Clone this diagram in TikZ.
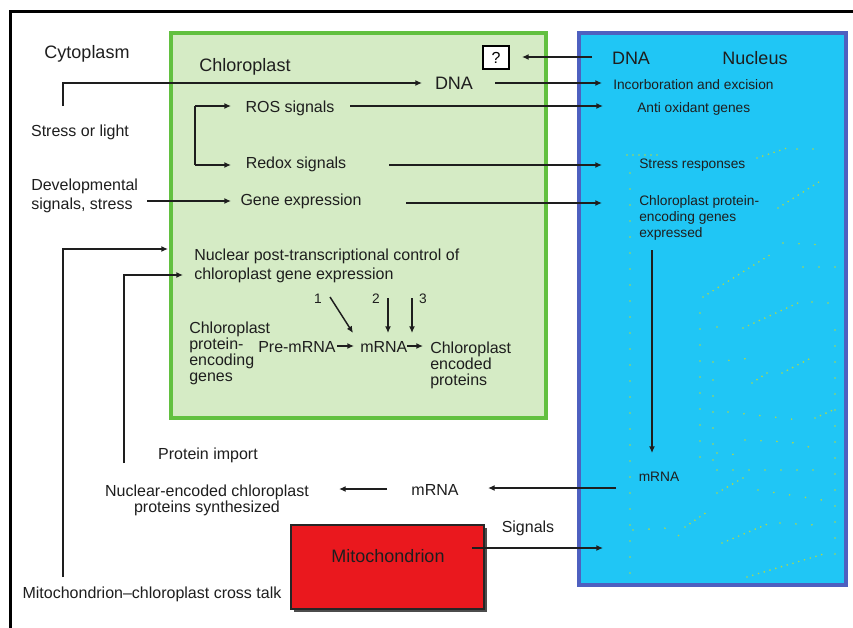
\documentclass[tikz,border=0pt]{standalone}
\usepackage{fontspec}
\setmainfont{Liberation Sans}
\usetikzlibrary{arrows.meta}
\definecolor{chlfill}{RGB}{213,235,197}
\definecolor{chldraw}{RGB}{98,192,64}
\definecolor{nucfill}{RGB}{32,198,245}
\definecolor{nucdraw}{RGB}{78,96,192}
\definecolor{mitofill}{RGB}{234,24,30}
\definecolor{ink}{RGB}{30,30,30}
\definecolor{dotc}{RGB}{170,215,80}
\tikzset{
  arr/.style={draw=ink, line width=1.1pt, -{Latex[length=5pt,width=4.5pt]}},
  ln/.style={draw=ink, line width=1.1pt},
  bigt/.style={font=\fontsize{13.5}{16}\selectfont, text=ink, inner sep=0pt, text height=9.7pt, text depth=0pt},
  medt/.style={font=\fontsize{12}{14}\selectfont, text=ink, inner sep=0pt, text height=8.6pt, text depth=0pt},
  smlt/.style={font=\fontsize{10.3}{12}\selectfont, text=ink, inner sep=0pt, text height=7.4pt, text depth=0pt},
  medw/.style={font=\fontsize{12}{14.25}\selectfont, text=ink, inner sep=0pt, align=left},
  medn/.style={font=\fontsize{12}{12}\selectfont, text=ink, inner sep=0pt, align=left},
  smln/.style={font=\fontsize{10.3}{12}\selectfont, text=ink, inner sep=0pt, align=left},
  deco/.style={draw=dotc, line width=1.4pt, line cap=round, dash pattern=on 0pt off 4.5pt},
  decocol/.style={draw=dotc, line width=1.4pt, line cap=round, dash pattern=on 0pt off 12pt},
}
\begin{document}
\begin{tikzpicture}[x=0.75pt,y=-0.75pt]
\useasboundingbox (0,0) rectangle (853,628);
\fill[white] (0,0) rectangle (853,628);
% frame
\draw[line width=1.6pt, black] (10.5,628) -- (10.5,11.5) -- (853,11.5);

% compartments
\node[draw=chldraw, fill=chlfill, line width=2.4pt, minimum width=281.25pt, minimum height=288.75pt, inner sep=0pt] (chl) at (358.5,225.5) {};
\node[draw=nucdraw, fill=nucfill, line width=2.4pt, minimum width=200.25pt, minimum height=414pt, inner sep=0pt] (nuc) at (712.5,309) {};
\fill[black!70] (294,528) rectangle (487,612);
\node[draw=black!85, fill=mitofill, line width=1.3pt, minimum width=144.75pt, minimum height=63pt, inner sep=0pt] (mito) at (387.5,567) {};
\node[draw=black, fill=white, line width=1.1pt, minimum width=19.5pt, minimum height=17.25pt, inner sep=0pt, font=\fontsize{12}{12}\selectfont] (q) at (496,57.5) {?};

% nucleus decoration dots
\draw[deco] (627,155) -- (660,155);
\draw[deco] (757,158) -- (787,148);
\draw[decocol] (797,149) -- (827,149);
\draw[deco] (778,208) -- (822,180);
\draw[deco] (703,297) -- (773,253);
\draw[decocol] (783,243) -- (825,245);
\draw[decocol] (803,267) -- (835,267);
\draw[deco] (743,328) -- (800,302);
\draw[decocol] (812,302) -- (828,303);
\draw[decocol] (717,327) -- (730,327);
\draw[decocol] (713,362) -- (752,358);
\draw[deco] (752,383) -- (767,373);
\draw[deco] (782,373) -- (813,357);
\draw[decocol] (728,412) -- (800,420);
\draw[deco] (815,418) -- (833,410);
\draw[decocol] (745,440) -- (790,442) -- (813,448);
\draw[decocol] (717,453) -- (742,455);
\draw[decocol] (717,470) -- (820,470);
\draw[deco] (717,493) -- (743,478);
\draw[decocol] (758,490) -- (835,502);
\draw[deco] (685,527) -- (707,512);
\draw[deco] (722,543) -- (770,523);
\draw[decocol] (780,523) -- (815,525);
\draw[deco] (747,577) -- (827,553);
\draw[decocol] (633,530) -- (668,528) -- (682,538);
\draw[decocol] (630,173) -- (630,580);
\draw[decocol] (700,313) -- (700,465);
\draw[decocol] (713,380) -- (713,470);
\draw[decocol] (835,330) -- (835,560);

% texts
\node[bigt] (cyto) at (87,52) {Cytoplasm};
\node[bigt] (chlT) at (245,65) {Chloroplast};
\node[bigt] (dnaC) at (454,83) {DNA};
\node[bigt] (dnaN) at (631,58) {DNA};
\node[bigt] (nucT) at (755,58) {Nucleus};
\node[smlt, anchor=west] (incorp) at (613,85) {Incorboration and excision};
\node[smlt, anchor=west] (antiox) at (637,108) {Anti oxidant genes};
\node[medt] (ros) at (290,107) {ROS signals};
\node[medt] (stress) at (80,131) {Stress or light};
\node[medt] (redox) at (296,163) {Redox signals};
\node[smlt, anchor=west] (stressR) at (639,164) {Stress responses};
\node[medw, anchor=north west] (devel) at (31,179) {Developmental\\signals, stress};
\node[medt] (gene) at (301,200) {Gene expression};
\node[smln, anchor=north west] (cpgE) at (639,195) {Chloroplast protein-\\encoding genes\\expressed};
\node[medw, anchor=north west] (npt) at (194,249) {Nuclear post-transcriptional control of\\chloroplast gene expression};
\node[smlt] (n1) at (318,299) {1};
\node[smlt] (n2) at (376,299) {2};
\node[smlt] (n3) at (423,299) {3};
\node[medn, anchor=north west] (cpg) at (189,322) {Chloroplast\\protein-\\encoding\\genes};
\node[medt, anchor=west] (pre) at (258,347) {Pre-mRNA};
\node[medt, anchor=west] (mrnaC) at (360,347) {mRNA};
\node[medn, anchor=north west] (cep) at (430,342) {Chloroplast\\encoded\\proteins};
\node[medt] (pimp) at (208,454) {Protein import};
\node[medn, align=center, anchor=north] (nec) at (207,485) {Nuclear-encoded chloroplast\\proteins synthesized};
\node[medt] (mrnaY) at (435,490) {mRNA};
\node[smlt] (mrnaN) at (659,477) {mRNA};
\node[medt] (sig) at (528,527) {Signals};
\node[bigt] (mitoT) at (388,556) {Mitochondrion};
\node[medt] (xtalk) at (152,593) {Mitochondrion–chloroplast cross talk};

% connector end points
\coordinate (dnaNout) at (592,57);
\coordinate (qin) at (522,57);
\coordinate (slS) at (63,106);
\coordinate (dnaCin) at (422,83);
\coordinate (dnaCout) at (495,83);
\coordinate (incIn) at (602,83);
\coordinate (rosOut) at (350,106);
\coordinate (antiIn) at (603,106);
\coordinate (brTop) at (195,106);
\coordinate (brBot) at (195,165);
\coordinate (rosIn) at (231,106);
\coordinate (redIn) at (231,165);
\coordinate (redOut) at (389,165);
\coordinate (strIn) at (602,165);
\coordinate (devOut) at (147,201);
\coordinate (geneIn) at (231,201);
\coordinate (geneOut) at (406,203);
\coordinate (cpgIn) at (602,203);
\coordinate (xtS) at (63,577);
\coordinate (nptIn1) at (168,249);
\coordinate (piS) at (124,463);
\coordinate (nptIn2) at (183,275);
\coordinate (c1s) at (330,297);
\coordinate (c1e) at (353,333);
\coordinate (c2s) at (388,298);
\coordinate (c2e) at (388,333);
\coordinate (c3s) at (412,298);
\coordinate (c3e) at (412,333);
\coordinate (preOut) at (337,346);
\coordinate (mIn) at (354,346);
\coordinate (mOut) at (407,346);
\coordinate (cepIn) at (423,346);
\coordinate (vS) at (652,250);
\coordinate (vE) at (652,453);
\coordinate (mnOut) at (616,488);
\coordinate (myIn) at (488,488);
\coordinate (myOut) at (387,489);
\coordinate (necIn) at (339,489);
\coordinate (miOut) at (472,548);
\coordinate (sigIn) at (603,548);

% connectors
\draw[arr] (dnaNout) -- (qin);
\draw[arr] (slS) |- (dnaCin);
\draw[arr] (dnaCout) -- (incIn);
\draw[arr] (rosOut) -- (antiIn);
\draw[ln] (brTop) -- (brBot);
\draw[arr] (brTop) -- (rosIn);
\draw[arr] (brBot) -- (redIn);
\draw[arr] (redOut) -- (strIn);
\draw[arr] (devOut) -- (geneIn);
\draw[arr] (geneOut) -- (cpgIn);
\draw[arr] (xtS) |- (nptIn1);
\draw[arr] (piS) |- (nptIn2);
\draw[arr] (c1s) -- (c1e);
\draw[arr] (c2s) -- (c2e);
\draw[arr] (c3s) -- (c3e);
\draw[arr] (preOut) -- (mIn);
\draw[arr] (mOut) -- (cepIn);
\draw[arr] (vS) -- (vE);
\draw[arr] (mnOut) -- (myIn);
\draw[arr] (myOut) -- (necIn);
\draw[arr] (miOut) -- (sigIn);
\end{tikzpicture}
\end{document}
